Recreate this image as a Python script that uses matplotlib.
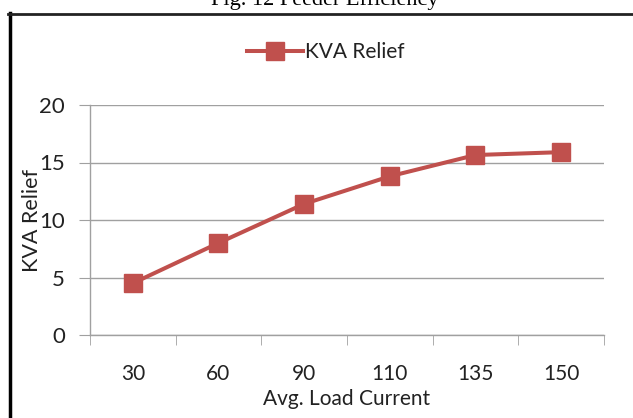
import numpy as np
import matplotlib.pyplot as plt
from matplotlib.lines import Line2D

# data
currents = ['30', '60', '90', '110', '135', '150']
kva_relief = [4.5, 8.0, 11.4, 13.8, 15.65, 15.9]

red = '#C0504D'
grid_grey = '#A0A0A0'

plt.rcParams['font.family'] = ['Lato', 'DejaVu Sans']

fig = plt.figure(figsize=(6.33, 4.18), dpi=100)
W, H = 633, 418

# caption above the chart box (cut off at the top)
fig.text(325 / W, 1 - 5 / H, 'Fig. 12 Feeder Efficiency', family='Liberation Serif',
         fontsize=16, ha='center', va='baseline')

# chart frame
fig.add_artist(Line2D([9.5 / W, 9.5 / W], [0, 1 - 13 / H], color='black', lw=2.5,
                      transform=fig.transFigure))
fig.add_artist(Line2D([8 / W, 1], [1 - 13.5 / H, 1 - 13.5 / H], color='#222222', lw=2,
                      transform=fig.transFigure))

ax = fig.add_axes([90 / W, 1 - 335 / H, 514 / W, 230 / H])
x = np.arange(len(currents))
ax.plot(x, kva_relief, color=red, lw=2.9, marker='s', markersize=13.5,
        markerfacecolor=red, markeredgecolor=red, label='KVA Relief')

ax.set_xlim(-0.5, len(currents) - 0.5)
ax.set_ylim(0, 20)
ax.set_yticks([0, 5, 10, 15, 20])
ax.yaxis.grid(True, color=grid_grey, lw=1)
ax.set_axisbelow(True)

for s in ['top', 'right']:
    ax.spines[s].set_visible(False)
for s in ['left', 'bottom']:
    ax.spines[s].set_color(grid_grey)
    ax.spines[s].set_linewidth(1)

ax.set_xticks(x)
ax.set_xticklabels(currents)
ax.set_xticks(np.arange(-0.5, len(currents)), minor=True)
ax.tick_params(axis='x', which='major', length=0, pad=21, labelsize=15, labelcolor='#222222')
ax.tick_params(axis='x', which='minor', length=7, color=grid_grey, direction='out')
ax.tick_params(axis='y', length=8, color=grid_grey, pad=10, labelsize=16, labelcolor='#222222')

ax.set_xlabel('Avg. Load Current', fontsize=15, color='#222222')
ax.xaxis.set_label_coords(0.5, -0.235)
ax.set_ylabel('KVA Relief', fontsize=15.5, color='#222222')
ax.yaxis.set_label_coords(-0.093, 0.5)

fig.legend(loc='center', bbox_to_anchor=(326 / W, 1 - 52 / H), frameon=False,
           fontsize=15, handlelength=2.7, handletextpad=0.1, labelcolor='#222222')

fig.savefig('out.png', dpi=100, facecolor='white')
